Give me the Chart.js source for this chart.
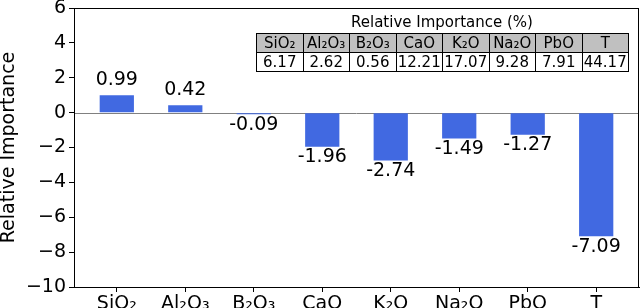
<!DOCTYPE html>
<html>
<head>
<meta charset="utf-8">
<script src="https://cdn.jsdelivr.net/npm/chart.js@4/dist/chart.umd.min.js"></script>
<style>
  html, body { margin: 0; padding: 0; background: #fff; }
  #wrap { position: relative; width: 640px; height: 308px; overflow: hidden; font-family: "DejaVu Sans", sans-serif; }
  canvas { position: absolute; left: 0; top: 0; }
  #tblTitle { position: absolute; left: 256px; width: 372px; top: 13px; text-align: center; font-size: 15px; line-height: 18px; color: #000; }
  #tbl { position: absolute; left: 256px; top: 33px; width: 373px; border-collapse: collapse; table-layout: fixed; font-size: 15px; }
  #tbl td { border: 1px solid #000; height: 18px; padding: 0; text-align: center; line-height: 18px; color: #000; white-space: nowrap; overflow: hidden; }
  #tbl tr.h td { background: #c0c0c0; }
  #tbl tr.v td { background: #fff; }
</style>
</head>
<body>
<div id="wrap">
  <canvas id="c" width="640" height="308"></canvas>
  <div id="tblTitle"></div>
  <table id="tbl"><tr class="h"></tr><tr class="v"></tr></table>
</div>
<script>
const categories = ["SiO\u2082", "Al\u2082O\u2083", "B\u2082O\u2083", "CaO", "K\u2082O", "Na\u2082O", "PbO", "T"];
const values = [0.99, 0.42, -0.09, -1.96, -2.74, -1.49, -1.27, -7.09];
const yTicks = [-10, -8, -6, -4, -2, 0, 2, 4, 6];
const tableTitle = "Relative Importance (%)";
const tableHeaders = ["SiO\u2082", "Al\u2082O\u2083", "B\u2082O\u2083", "CaO", "K\u2082O", "Na\u2082O", "PbO", "T"];
const tableValues = ["6.17", "2.62", "0.56", "12.21", "17.07", "9.28", "7.91", "44.17"];

document.getElementById('tblTitle').textContent = tableTitle;
const hr = document.querySelector('#tbl tr.h');
const vr = document.querySelector('#tbl tr.v');
tableHeaders.forEach(h => { const td = document.createElement('td'); td.textContent = h; hr.appendChild(td); });
tableValues.forEach(v => { const td = document.createElement('td'); td.textContent = v; vr.appendChild(td); });

const FONT = "'DejaVu Sans', sans-serif";

const framePlugin = {
  id: 'frame',
  beforeDatasetsDraw(chart) {
    const { ctx, chartArea: a, scales: { y } } = chart;
    const y0 = Math.round(y.getPixelForValue(0)) + 0.5;
    ctx.save();
    ctx.strokeStyle = '#808080';
    ctx.lineWidth = 1;
    ctx.beginPath(); ctx.moveTo(a.left, y0); ctx.lineTo(a.right, y0); ctx.stroke();
    ctx.restore();
  },
  afterDatasetsDraw(chart) {
    const { ctx } = chart;
    const meta = chart.getDatasetMeta(0);
    ctx.save();
    ctx.font = "19px " + FONT;
    ctx.fillStyle = '#000';
    ctx.textAlign = 'center';
    meta.data.forEach((bar, i) => {
      const v = values[i];
      const txt = v.toFixed(2);
      if (v >= 0) { ctx.textBaseline = 'bottom'; ctx.fillText(txt, bar.x, bar.y - 6); }
      else { ctx.textBaseline = 'top'; ctx.fillText(txt, bar.x, bar.y + 1); }
    });
    ctx.restore();
  },
  afterDraw(chart) {
    const { ctx, chartArea: a } = chart;
    ctx.save();
    ctx.strokeStyle = '#000';
    ctx.lineWidth = 1;
    ctx.strokeRect(Math.round(a.left) + 0.5, Math.round(a.top) + 0.5, Math.round(a.right - a.left) - 1, Math.round(a.bottom - a.top));
    ctx.restore();
  }
};

new Chart(document.getElementById('c'), {
  type: 'bar',
  data: {
    datasets: [{
      data: values.map((v, i) => ({ x: i, y: v })),
      backgroundColor: '#4169E1',
      borderWidth: 0,
      barPercentage: 0.5,
      categoryPercentage: 1.0
    }]
  },
  options: {
    responsive: false,
    animation: false,
    devicePixelRatio: 1,
    layout: { padding: { top: 8, right: 1, left: 0, bottom: 0 } },
    plugins: { legend: { display: false }, tooltip: { enabled: false } },
    scales: {
      x: {
        type: 'linear',
        offset: false,
        min: -0.625,
        max: 7.625,
        afterBuildTicks(scale) { scale.ticks = categories.map((c, i) => ({ value: i })); },
        afterFit(scale) { scale.height = 21; scale.paddingLeft = 0; scale.paddingRight = 0; },
        ticks: {
          autoSkip: false,
          maxRotation: 0,
          color: '#000',
          padding: 1,
          font: { family: FONT, size: 19 },
          callback: (v) => categories[Math.round(v)]
        },
        grid: { display: true, offset: false, drawOnChartArea: false, drawTicks: true, tickLength: 5, color: '#000' },
        border: { display: true, color: '#000' }
      },
      y: {
        min: -10,
        max: 6,
        afterBuildTicks(scale) { scale.ticks = yTicks.map(v => ({ value: v })); },
        afterFit(scale) { scale.width = 74; scale.paddingTop = 0; scale.paddingBottom = 0; },
        ticks: {
          color: '#000',
          padding: 3,
          font: { family: FONT, size: 19 },
          callback: (v) => (v < 0 ? '\u2212' + Math.abs(v) : String(v))
        },
        grid: { display: true, drawOnChartArea: false, drawTicks: true, tickLength: 5, color: '#000' },
        border: { display: true, color: '#000' },
        title: {
          display: true,
          text: 'Relative Importance',
          color: '#000',
          font: { family: FONT, size: 19, lineHeight: 1.0 },
          padding: { top: 0, bottom: 0 }
        }
      }
    }
  },
  plugins: [framePlugin]
});
</script>
</body>
</html>
